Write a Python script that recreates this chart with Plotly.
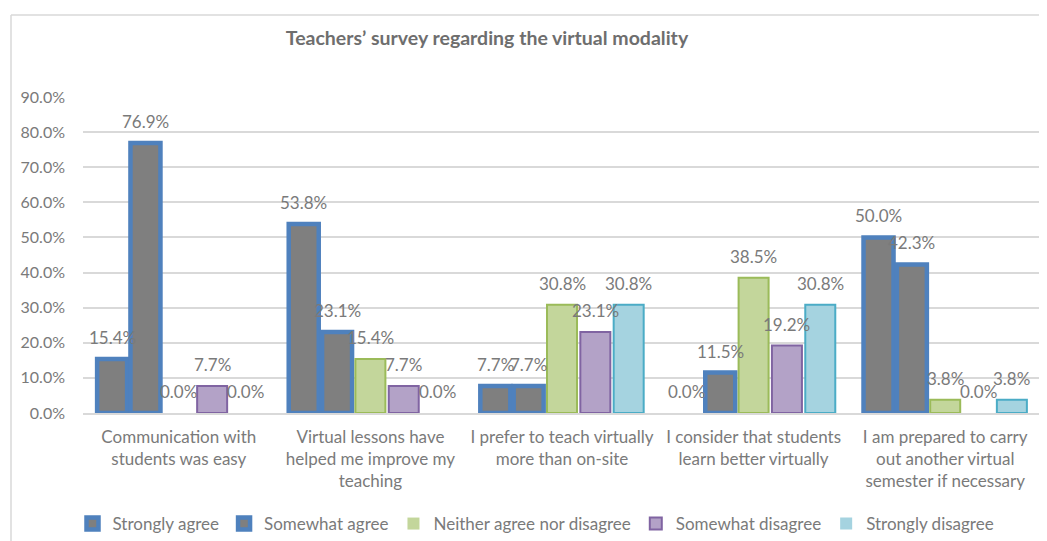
import plotly.graph_objects as go

categories = [
    "Communication with<br>students was easy",
    "Virtual lessons have<br>helped me improve my<br>teaching",
    "I prefer to teach virtually<br>more than on-site",
    "I consider that students<br>learn better virtually",
    "I am prepared to carry<br>out another virtual<br>semester if necessary",
]
series_names = ["Strongly agree", "Somewhat agree", "Neither agree nor disagree",
                "Somewhat disagree", "Strongly disagree"]
strongly_agree = [0.154, 0.538, 0.077, 0.000, 0.500]
somewhat_agree = [0.769, 0.231, 0.077, 0.115, 0.423]
neither = [0.000, 0.154, 0.308, 0.385, 0.038]
somewhat_disagree = [0.077, 0.077, 0.231, 0.192, 0.000]
strongly_disagree = [0.000, 0.000, 0.308, 0.308, 0.038]
values = [strongly_agree, somewhat_agree, neither, somewhat_disagree, strongly_disagree]

fills = ["#7f7f7f", "#7f7f7f", "#c3d69b", "#b3a2c7", "#a5d3e0"]
borders = ["#4f81bd", "#4f81bd", "#9bbb59", "#8064a2", "#4bacc6"]
border_w = [4.5, 4.5, 2, 2, 2]

# page has an 8px body margin; figure is sized/positioned to compensate
OFF = 8
W, H = 1047 - OFF, 541 - OFF
ML, MR, MT, MB = 83 - OFF, 6, 97 - OFF, 541 - 413
BARGAP = 0.13
FONT = "Lato"
TXT = "#7a7a7a"

fig = go.Figure()
for name, vals, f, b, lw in zip(series_names, values, fills, borders, border_w):
    fig.add_trace(go.Bar(
        name=name, x=categories, y=vals,
        marker=dict(color=f, line=dict(color=b, width=[lw if v > 0 else 0 for v in vals])),
        hoverinfo="skip",
    ))

plot_w = W - ML - MR
plot_h = H - MT - MB
slot = plot_w / len(categories) * (1 - BARGAP) / len(series_names)
annotations = []
for k, vals in enumerate(values):
    for cat, v in zip(categories, vals):
        annotations.append(dict(
            x=cat, y=v, xref="x", yref="y", text=f"{v*100:.1f}%",
            showarrow=False, yanchor="bottom", yshift=9,
            xshift=(k - 2) * slot,
            font=dict(family=FONT, size=17, color=TXT),
        ))

def px(x):  # reference-image x -> paper
    return (x - OFF - ML) / plot_w
def py(y):  # reference-image y -> paper
    return (H - MB - (y - OFF)) / plot_h

shapes = [
    dict(type="line", xref="paper", yref="paper", x0=px(11), x1=px(11), y0=py(15), y1=py(545),
         line=dict(color="#d9d9d9", width=1.5)),
    dict(type="line", xref="paper", yref="paper", x0=px(11), x1=px(1050), y0=py(15), y1=py(15),
         line=dict(color="#d9d9d9", width=1.5)),
]

fig.update_layout(
    width=W, height=H,
    margin=dict(l=ML, r=MR, t=MT, b=MB, autoexpand=False),
    paper_bgcolor="white", plot_bgcolor="white",
    barmode="group", bargap=BARGAP, bargroupgap=0.1,
    font=dict(family=FONT, size=17, color=TXT),
    title=dict(text="<b>Teachers’ survey regarding the virtual modality</b>",
               x=(487 - OFF) / W, xref="container", xanchor="center",
               y=1 - (38 - OFF) / H, yref="container", yanchor="middle",
               font=dict(family=FONT, size=19.5, color="#6e6e6e")),
    yaxis=dict(range=[0, 0.9], dtick=0.1, tickformat=".1%", showgrid=True,
               gridcolor="#d9d9d9", gridwidth=1.5, zeroline=False, showline=False,
               automargin=False,
               ticks="", ticklabelstandoff=17, tickfont=dict(size=16, color=TXT)),
    xaxis=dict(showline=True, linecolor="#d9d9d9", linewidth=1.5, ticks="",
               automargin=False,
               ticklabelstandoff=8, tickfont=dict(size=17, color=TXT)),
    legend=dict(orientation="h", x=px(536), xanchor="center", y=py(524), yanchor="middle",
                font=dict(size=17, color=TXT), itemwidth=30, tracegroupgap=0),
    annotations=annotations,
    shapes=shapes,
)

fig.write_html("out.html")
